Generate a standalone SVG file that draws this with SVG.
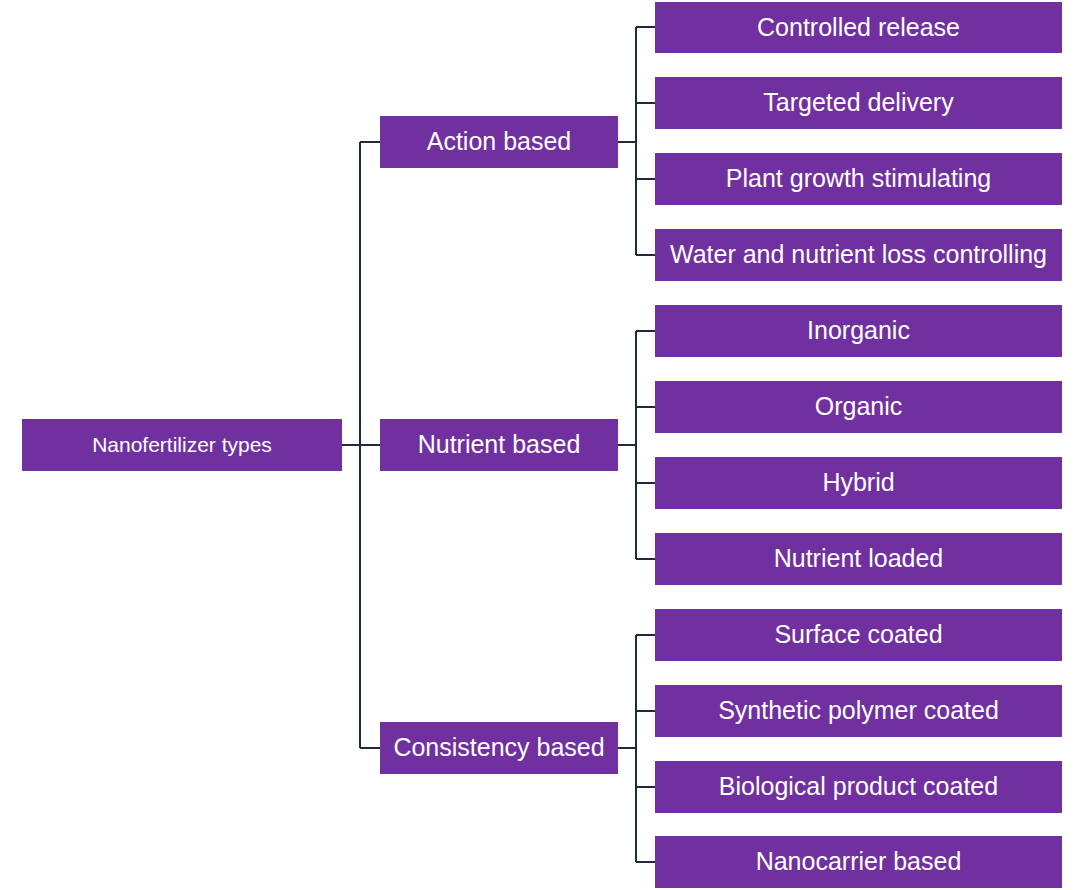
<svg xmlns="http://www.w3.org/2000/svg" width="1084" height="890" viewBox="0 0 1084 890">
<style>
.box{fill:#7030A0}
.t{font-family:"Liberation Sans",Arial,sans-serif;fill:#FFFFFF;text-anchor:middle}
.big{font-size:25px}
.sm{font-size:21px}
.c{fill:none;stroke:#1F2A3A;stroke-width:2}
</style>
<rect width="1084" height="890" fill="#FFFFFF"/>
<g id="connectors">
<path class="c" d="M342 445H380M360 142V748M360 142H380M360 748H380"/>
<path class="c" d="M618 142H636M636 27V255M636 27H655M636 103H655M636 179H655M636 255H655"/>
<path class="c" d="M618 445H636M636 331V559M636 331H655M636 407H655M636 483H655M636 559H655"/>
<path class="c" d="M618 748H636M636 635V862M636 635H655M636 711H655M636 787H655M636 862H655"/>
</g>
<g id="root"><rect class="box" x="22" y="419" width="320" height="52"/><text class="t sm" x="182" y="451.5">Nanofertilizer types</text></g>
<g id="action"><rect class="box" x="380" y="116" width="238" height="52"/><text class="t big" x="499" y="150">Action based</text></g>
<g id="nutrient"><rect class="box" x="380" y="419" width="238" height="52"/><text class="t big" x="499" y="453">Nutrient based</text></g>
<g id="consistency"><rect class="box" x="380" y="722" width="238" height="52"/><text class="t big" x="499" y="756">Consistency based</text></g>
<g id="leaf1"><rect class="box" x="655" y="2" width="407" height="51"/><text class="t big" x="858.5" y="35.5">Controlled release</text></g>
<g id="leaf2"><rect class="box" x="655" y="77" width="407" height="52"/><text class="t big" x="858.5" y="111">Targeted delivery</text></g>
<g id="leaf3"><rect class="box" x="655" y="153" width="407" height="52"/><text class="t big" x="858.5" y="187">Plant growth stimulating</text></g>
<g id="leaf4"><rect class="box" x="655" y="229" width="407" height="52"/><text class="t big" x="858.5" y="263">Water and nutrient loss controlling</text></g>
<g id="leaf5"><rect class="box" x="655" y="305" width="407" height="52"/><text class="t big" x="858.5" y="339">Inorganic</text></g>
<g id="leaf6"><rect class="box" x="655" y="381" width="407" height="52"/><text class="t big" x="858.5" y="415">Organic</text></g>
<g id="leaf7"><rect class="box" x="655" y="457" width="407" height="52"/><text class="t big" x="858.5" y="491">Hybrid</text></g>
<g id="leaf8"><rect class="box" x="655" y="533" width="407" height="52"/><text class="t big" x="858.5" y="567">Nutrient loaded</text></g>
<g id="leaf9"><rect class="box" x="655" y="609" width="407" height="52"/><text class="t big" x="858.5" y="643">Surface coated</text></g>
<g id="leaf10"><rect class="box" x="655" y="685" width="407" height="52"/><text class="t big" x="858.5" y="719">Synthetic polymer coated</text></g>
<g id="leaf11"><rect class="box" x="655" y="761" width="407" height="52"/><text class="t big" x="858.5" y="795">Biological product coated</text></g>
<g id="leaf12"><rect class="box" x="655" y="836" width="407" height="52"/><text class="t big" x="858.5" y="870">Nanocarrier based</text></g>
</svg>
